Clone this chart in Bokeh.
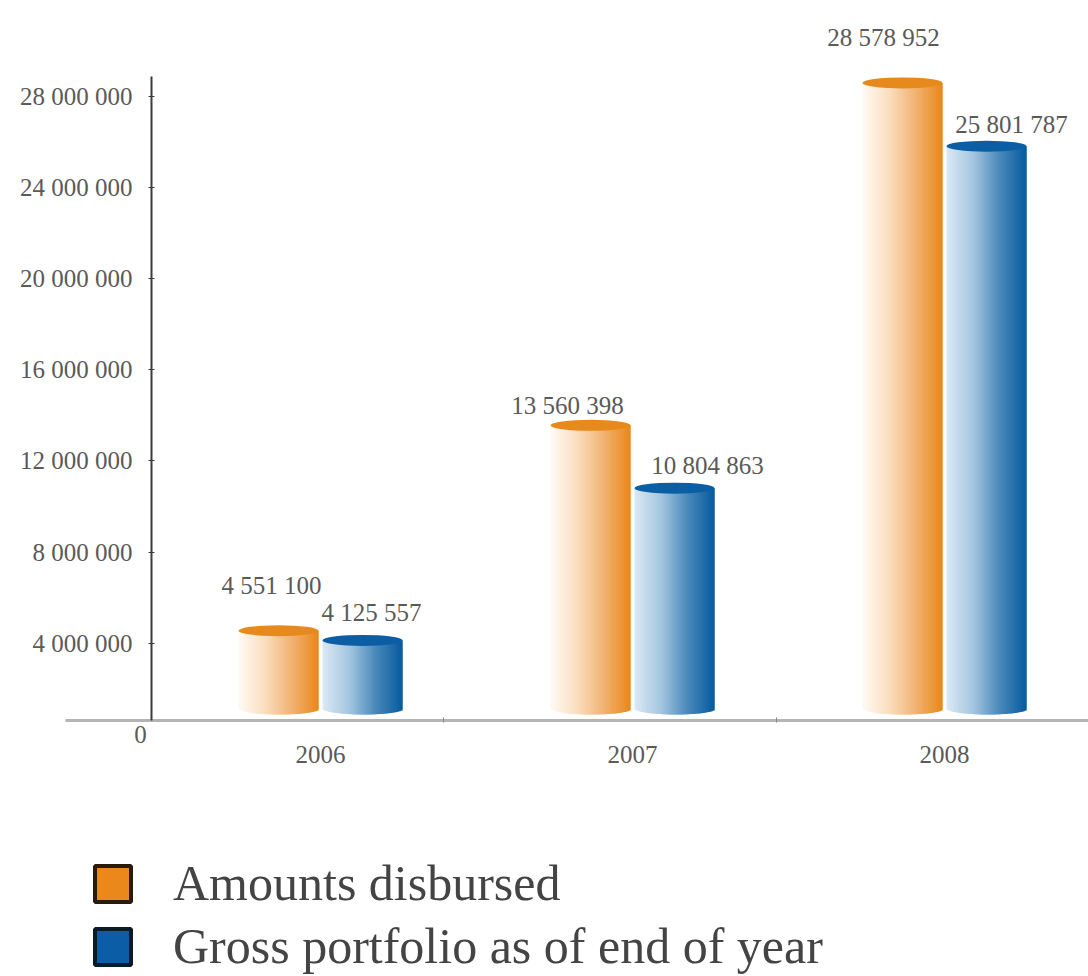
import math

from bokeh.core.properties import value
from bokeh.embed import file_html
from bokeh.models import ColumnDataSource, FixedTicker, Legend, LegendItem, Range1d
from bokeh.plotting import figure
from bokeh.resources import INLINE

# Chart values
years = [2006, 2007, 2008]
amounts_disbursed = [4551100, 13560398, 28578952]
gross_portfolio = [4125557, 10804863, 25801787]
tick_values = [4000000, 8000000, 12000000, 16000000, 20000000, 24000000, 28000000]
series_names = ["Amounts disbursed", "Gross portfolio as of end of year"]

# Layout of the page in pixels
WIDTH, HEIGHT = 1088, 976
PX_PER_YEAR = 312.0
X_2006 = 320.0
PX_PER_UNIT = 22.8 / 1e6
Y_ZERO = 734.0


def x_at(px):
    return years[0] + (px - X_2006) / PX_PER_YEAR


def y_at(px):
    return (Y_ZERO - px) / PX_PER_UNIT


def space_thousands(v):
    return f"{v:,}".replace(",", " ")


def blend(stops, t):
    pos = t * (len(stops) - 1)
    i = min(int(pos), len(stops) - 2)
    f = pos - i
    rgb = [round(stops[i][c] + (stops[i + 1][c] - stops[i][c]) * f) for c in range(3)]
    return "#%02x%02x%02x" % tuple(rgb)


ORANGE_STOPS = [(255, 250, 244), (250, 222, 190), (241, 178, 112), (233, 134, 26)]
BLUE_STOPS = [(218, 232, 243), (164, 198, 224), (72, 136, 186), (6, 90, 158)]
ORANGE_TOP, BLUE_TOP = "#e68a1e", "#0b5ea3"
TEXT_COLOR = "#5a5a5a"
TEXT_FONT = "Liberation Serif"
TEXT_SIZE = "25px"

BAR_W = 80 / PX_PER_YEAR
BAR_SHIFT = 42 / PX_PER_YEAR
FOOT = y_at(708)
FOOT_DIP = 6 / PX_PER_UNIT
CAP_H = 11 / PX_PER_UNIT
SLICES = 40

p = figure(
    width=WIDTH,
    height=HEIGHT,
    x_range=Range1d(x_at(0), x_at(WIDTH)),
    y_range=Range1d(y_at(HEIGHT), y_at(0)),
    output_backend="svg",
    toolbar_location=None,
    min_border=0,
    outline_line_color=None,
)
p.grid.visible = False


def draw_cylinders(values, shift, stops, top_color):
    # Each cylinder body is a stack of overlapping slices shaded left to right,
    # with a curved foot and an elliptical cap at the value.
    rows = dict(left=[], right=[], top=[], bottom=[], color=[])
    for year, v in zip(years, values):
        x0 = year + shift - BAR_W / 2
        for i in range(SLICES):
            t = (i + 0.5) / SLICES
            rows["left"].append(x0 + BAR_W * i / SLICES)
            # every slice runs under its right neighbour so no seams show
            rows["right"].append(x0 + BAR_W * min(i + 2, SLICES) / SLICES)
            rows["top"].append(v)
            rows["bottom"].append(FOOT - FOOT_DIP * math.sqrt(max(0, 1 - (2 * t - 1) ** 2)))
            rows["color"].append(blend(stops, t))
    p.quad(left="left", right="right", top="top", bottom="bottom", fill_color="color",
           line_color=None, source=ColumnDataSource(rows))
    p.ellipse(x=[y + shift for y in years], y=values, width=BAR_W, height=CAP_H,
              fill_color=top_color, line_color=None)


draw_cylinders(amounts_disbursed, -BAR_SHIFT, ORANGE_STOPS, ORANGE_TOP)
draw_cylinders(gross_portfolio, BAR_SHIFT, BLUE_STOPS, BLUE_TOP)

# Value labels sit beside or above their cylinders
label_x = [y - BAR_SHIFT for y in years] + [y + BAR_SHIFT for y in years]
label_y = amounts_disbursed + gross_portfolio
label_text = [space_thousands(v) for v in label_y]
label_dx = [-7, -23, -19, 9, 33, 25]
label_dy = [-45, -20, -45, -28, -23, -22]
p.text(x="x", y="y", text="t", x_offset="dx", y_offset="dy",
       text_font=value(TEXT_FONT), text_font_size=TEXT_SIZE, text_color=TEXT_COLOR,
       text_align="center", text_baseline="middle",
       source=ColumnDataSource(dict(x=label_x, y=label_y, t=label_text, dx=label_dx, dy=label_dy)))

# The zero label stands below the truncated base line
p.text(x=[x_at(140)], y=[0], text=["0"], text_font=value(TEXT_FONT),
       text_font_size=TEXT_SIZE, text_color=TEXT_COLOR, text_align="center", text_baseline="middle")

# Axes run inside the frame, crossing near the lower left
xaxis = p.xaxis[0]
xaxis.fixed_location = y_at(720)
xaxis.bounds = (x_at(65), x_at(WIDTH))
xaxis.ticker = FixedTicker(ticks=years, minor_ticks=[x_at(443), x_at(776)])
xaxis.axis_line_color = "#b4b4b4"
xaxis.axis_line_width = 3
xaxis.major_tick_line_color = None
xaxis.minor_tick_line_color = "#888888"
xaxis.minor_tick_in = 3
xaxis.minor_tick_out = 2
xaxis.major_label_standoff = 19
xaxis.major_label_text_font = TEXT_FONT
xaxis.major_label_text_font_size = TEXT_SIZE
xaxis.major_label_text_color = TEXT_COLOR

yaxis = p.yaxis[0]
yaxis.fixed_location = x_at(151)
yaxis.bounds = (y_at(720), y_at(76))
yaxis.ticker = FixedTicker(ticks=tick_values)
yaxis.major_label_overrides = {v: space_thousands(v) for v in tick_values}
yaxis.major_label_orientation = "horizontal"
yaxis.axis_line_color = "#3a3a3a"
yaxis.axis_line_width = 2
yaxis.major_tick_line_color = "#3a3a3a"
yaxis.major_tick_in = 3
yaxis.major_tick_out = 3
yaxis.minor_tick_line_color = None
yaxis.major_label_standoff = 16
yaxis.major_label_text_font = TEXT_FONT
yaxis.major_label_text_font_size = TEXT_SIZE
yaxis.major_label_text_color = TEXT_COLOR

# Legend swatches: off-canvas quads whose only job is to supply a key
hidden = dict(left=[float("nan")], right=[float("nan")], top=[float("nan")], bottom=[float("nan")])
orange_key = p.quad(source=ColumnDataSource(hidden), left="left", right="right", top="top", bottom="bottom",
                    fill_color="#ea881c", line_color="#2a1a0a", line_width=4)
blue_key = p.quad(source=ColumnDataSource(hidden), left="left", right="right", top="top", bottom="bottom",
                  fill_color="#0b5ea6", line_color="#0a1a2a", line_width=4)
legend = Legend(
    items=[LegendItem(label=series_names[0], renderers=[orange_key]),
           LegendItem(label=series_names[1], renderers=[blue_key])],
    location=(90, 1),
    background_fill_alpha=0,
    border_line_color=None,
    glyph_width=45,
    glyph_height=45,
    label_height=38,
    spacing=5,
    label_standoff=38,
    padding=10,
    margin=0,
    label_text_font=TEXT_FONT,
    label_text_font_size="50px",
    label_text_color="#444444",
)
p.add_layout(legend, "center")

open("out.html", "w").write(file_html(p, INLINE))
